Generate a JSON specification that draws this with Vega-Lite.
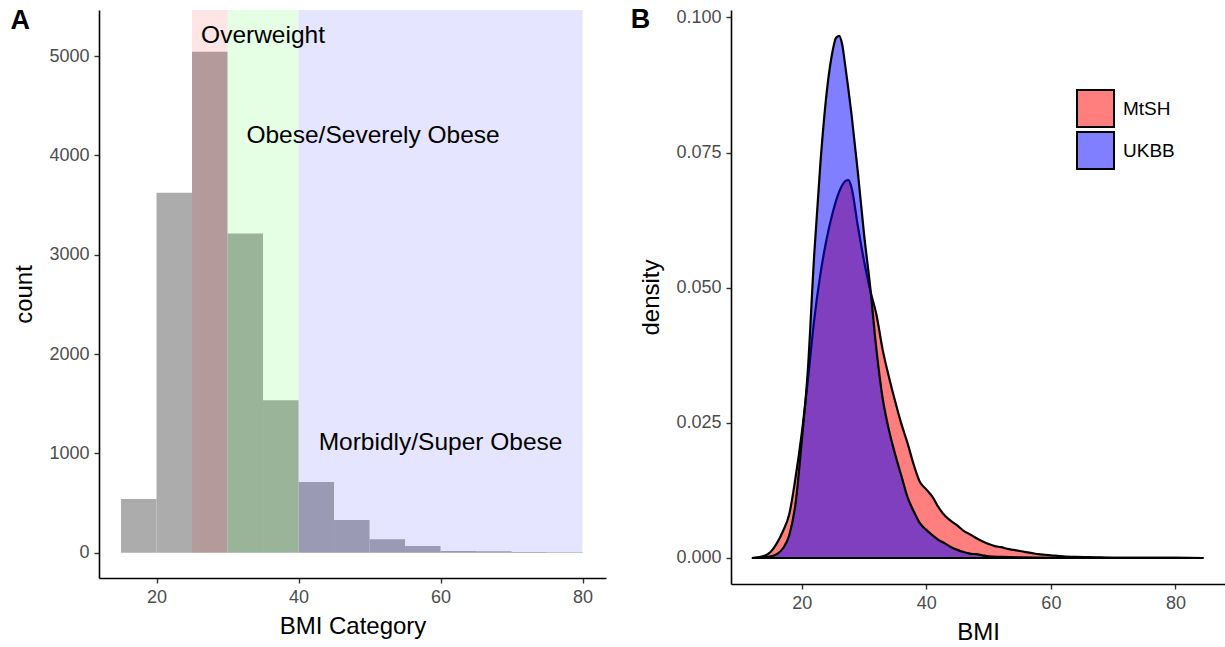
{
  "$schema": "https://vega.github.io/schema/vega-lite/v6.json",
  "padding": {"left": 10, "top": 6, "right": 0, "bottom": 0},
  "background": "white",
  "config": {
    "font": "Liberation Sans",
    "view": {"stroke": null},
    "axis": {"grid": false, "domainColor": "black", "domainWidth": 1.6, "tickColor": "#333333", "tickWidth": 1.4, "tickSize": 5, "labelColor": "#4d4d4d", "labelFontSize": 18, "labelPadding": 5, "titleFontSize": 24, "titleFontWeight": "normal", "titleColor": "black"},
    "axisX": {"titlePadding": 8, "labelFlush": false},
    "axisY": {"titlePadding": 12}
  },
  "spacing": 24,
  "resolve": {"scale": {"color": "independent", "fill": "independent"}, "legend": {"color": "independent", "fill": "independent"}},
  "datasets": {
    "hist": [
      {"bin_start": 15, "bin_end": 20, "count": 540},
      {"bin_start": 20, "bin_end": 25, "count": 3625},
      {"bin_start": 25, "bin_end": 30, "count": 5045},
      {"bin_start": 30, "bin_end": 35, "count": 3215},
      {"bin_start": 35, "bin_end": 40, "count": 1535},
      {"bin_start": 40, "bin_end": 45, "count": 712},
      {"bin_start": 45, "bin_end": 50, "count": 330},
      {"bin_start": 50, "bin_end": 55, "count": 135},
      {"bin_start": 55, "bin_end": 60, "count": 67},
      {"bin_start": 60, "bin_end": 65, "count": 17},
      {"bin_start": 65, "bin_end": 70, "count": 15},
      {"bin_start": 70, "bin_end": 75, "count": 6},
      {"bin_start": 75, "bin_end": 80, "count": 5}
    ],
    "zones": [
      {"zone": "Overweight", "xmin": 25, "xmax": 30},
      {"zone": "Obese/Severely Obese", "xmin": 30, "xmax": 40},
      {"zone": "Morbidly/Super Obese", "xmin": 40, "xmax": 80}
    ],
    "labelsA": [
      {"label": "Overweight", "x": 35, "y": 5200},
      {"label": "Obese/Severely Obese", "x": 50.5, "y": 4200},
      {"label": "Morbidly/Super Obese", "x": 60, "y": 1100}
    ],
    "panelA": [{"label": "A", "x": 0.8, "y": 5354}],
    "panelB": [{"label": "B", "BMI": -5.87, "density": 0.0995}],
    "density": [
      {"group": "MtSH", "BMI": 12, "density": 0},
      {"group": "MtSH", "BMI": 13, "density": 0.0001},
      {"group": "MtSH", "BMI": 14, "density": 0.0004},
      {"group": "MtSH", "BMI": 15, "density": 0.0011},
      {"group": "MtSH", "BMI": 16, "density": 0.0027},
      {"group": "MtSH", "BMI": 17, "density": 0.005},
      {"group": "MtSH", "BMI": 18, "density": 0.0081},
      {"group": "MtSH", "BMI": 19, "density": 0.0148},
      {"group": "MtSH", "BMI": 20, "density": 0.023},
      {"group": "MtSH", "BMI": 21, "density": 0.033},
      {"group": "MtSH", "BMI": 22, "density": 0.044},
      {"group": "MtSH", "BMI": 23, "density": 0.0525},
      {"group": "MtSH", "BMI": 24, "density": 0.059},
      {"group": "MtSH", "BMI": 25, "density": 0.064},
      {"group": "MtSH", "BMI": 26, "density": 0.0677},
      {"group": "MtSH", "BMI": 27, "density": 0.0697},
      {"group": "MtSH", "BMI": 27.5, "density": 0.0699},
      {"group": "MtSH", "BMI": 28, "density": 0.0685},
      {"group": "MtSH", "BMI": 29, "density": 0.0615},
      {"group": "MtSH", "BMI": 30, "density": 0.055},
      {"group": "MtSH", "BMI": 31, "density": 0.0495},
      {"group": "MtSH", "BMI": 32, "density": 0.045},
      {"group": "MtSH", "BMI": 33, "density": 0.0385},
      {"group": "MtSH", "BMI": 34, "density": 0.0335},
      {"group": "MtSH", "BMI": 35, "density": 0.029},
      {"group": "MtSH", "BMI": 36, "density": 0.0248},
      {"group": "MtSH", "BMI": 37, "density": 0.0212},
      {"group": "MtSH", "BMI": 38, "density": 0.0172},
      {"group": "MtSH", "BMI": 39, "density": 0.014},
      {"group": "MtSH", "BMI": 40, "density": 0.0127},
      {"group": "MtSH", "BMI": 41, "density": 0.0113},
      {"group": "MtSH", "BMI": 42, "density": 0.0093},
      {"group": "MtSH", "BMI": 43, "density": 0.0078},
      {"group": "MtSH", "BMI": 44, "density": 0.0068},
      {"group": "MtSH", "BMI": 45, "density": 0.006},
      {"group": "MtSH", "BMI": 46, "density": 0.005},
      {"group": "MtSH", "BMI": 47, "density": 0.0044},
      {"group": "MtSH", "BMI": 48, "density": 0.0037},
      {"group": "MtSH", "BMI": 49, "density": 0.0031},
      {"group": "MtSH", "BMI": 50, "density": 0.0026},
      {"group": "MtSH", "BMI": 51, "density": 0.0022},
      {"group": "MtSH", "BMI": 52, "density": 0.002},
      {"group": "MtSH", "BMI": 53, "density": 0.0017},
      {"group": "MtSH", "BMI": 54, "density": 0.0015},
      {"group": "MtSH", "BMI": 55, "density": 0.0013},
      {"group": "MtSH", "BMI": 56, "density": 0.0011},
      {"group": "MtSH", "BMI": 57, "density": 0.0009},
      {"group": "MtSH", "BMI": 58, "density": 0.0007},
      {"group": "MtSH", "BMI": 59, "density": 0.0006},
      {"group": "MtSH", "BMI": 60, "density": 0.0005},
      {"group": "MtSH", "BMI": 62, "density": 0.0003},
      {"group": "MtSH", "BMI": 64, "density": 0.0002},
      {"group": "MtSH", "BMI": 66, "density": 0.00015},
      {"group": "MtSH", "BMI": 68, "density": 0.0001},
      {"group": "MtSH", "BMI": 70, "density": 0.00005},
      {"group": "MtSH", "BMI": 75, "density": 0.00003},
      {"group": "MtSH", "BMI": 80, "density": 0.00001},
      {"group": "MtSH", "BMI": 84.5, "density": 0},
      {"group": "UKBB", "BMI": 12, "density": 0},
      {"group": "UKBB", "BMI": 13, "density": 0.00002},
      {"group": "UKBB", "BMI": 14, "density": 0.0001},
      {"group": "UKBB", "BMI": 15, "density": 0.0003},
      {"group": "UKBB", "BMI": 16, "density": 0.0007},
      {"group": "UKBB", "BMI": 17, "density": 0.0018},
      {"group": "UKBB", "BMI": 18, "density": 0.0042},
      {"group": "UKBB", "BMI": 19, "density": 0.01},
      {"group": "UKBB", "BMI": 20, "density": 0.0215},
      {"group": "UKBB", "BMI": 21, "density": 0.035},
      {"group": "UKBB", "BMI": 22, "density": 0.056},
      {"group": "UKBB", "BMI": 23, "density": 0.073},
      {"group": "UKBB", "BMI": 24, "density": 0.086},
      {"group": "UKBB", "BMI": 25, "density": 0.094},
      {"group": "UKBB", "BMI": 25.5, "density": 0.0962},
      {"group": "UKBB", "BMI": 26, "density": 0.0966},
      {"group": "UKBB", "BMI": 26.5, "density": 0.095},
      {"group": "UKBB", "BMI": 27, "density": 0.091},
      {"group": "UKBB", "BMI": 28, "density": 0.082},
      {"group": "UKBB", "BMI": 29, "density": 0.0715},
      {"group": "UKBB", "BMI": 30, "density": 0.06},
      {"group": "UKBB", "BMI": 31, "density": 0.0501},
      {"group": "UKBB", "BMI": 32, "density": 0.0385},
      {"group": "UKBB", "BMI": 33, "density": 0.0295},
      {"group": "UKBB", "BMI": 34, "density": 0.0237},
      {"group": "UKBB", "BMI": 35, "density": 0.0192},
      {"group": "UKBB", "BMI": 36, "density": 0.0152},
      {"group": "UKBB", "BMI": 37, "density": 0.0112},
      {"group": "UKBB", "BMI": 38, "density": 0.0086},
      {"group": "UKBB", "BMI": 39, "density": 0.0064},
      {"group": "UKBB", "BMI": 40, "density": 0.0052},
      {"group": "UKBB", "BMI": 41, "density": 0.0042},
      {"group": "UKBB", "BMI": 42, "density": 0.0033},
      {"group": "UKBB", "BMI": 43, "density": 0.0027},
      {"group": "UKBB", "BMI": 44, "density": 0.002},
      {"group": "UKBB", "BMI": 45, "density": 0.0015},
      {"group": "UKBB", "BMI": 46, "density": 0.0011},
      {"group": "UKBB", "BMI": 47, "density": 0.0008},
      {"group": "UKBB", "BMI": 48, "density": 0.0007},
      {"group": "UKBB", "BMI": 49, "density": 0.0005},
      {"group": "UKBB", "BMI": 50, "density": 0.0003},
      {"group": "UKBB", "BMI": 52, "density": 0.0002},
      {"group": "UKBB", "BMI": 55, "density": 0.0001},
      {"group": "UKBB", "BMI": 60, "density": 0.00005},
      {"group": "UKBB", "BMI": 65, "density": 0.00003},
      {"group": "UKBB", "BMI": 70, "density": 0.00002},
      {"group": "UKBB", "BMI": 75, "density": 0.00001},
      {"group": "UKBB", "BMI": 80, "density": 0.00001},
      {"group": "UKBB", "BMI": 84.5, "density": 0}
    ]
  },
  "hconcat": [
    {
      "width": 507,
      "height": 568,
      "layer": [
        {
          "data": {"name": "hist"},
          "mark": {"type": "rect", "fill": "#acacac"},
          "encoding": {
            "x": {"field": "bin_start", "type": "quantitative", "title": "BMI Category", "scale": {"domain": [11.9, 83.3], "nice": false, "zero": false}, "axis": {"values": [20, 40, 60, 80]}},
            "x2": {"field": "bin_end"},
            "y": {"field": "count", "type": "quantitative", "title": "count", "scale": {"domain": [-255, 5465], "nice": false, "zero": false}, "axis": {"values": [0, 1000, 2000, 3000, 4000, 5000], "format": "d"}},
            "y2": {"datum": 0}
          }
        },
        {
          "data": {"name": "zones"},
          "mark": {"type": "rect", "fillOpacity": 0.1},
          "encoding": {
            "x": {"field": "xmin", "type": "quantitative", "title": "BMI Category"},
            "x2": {"field": "xmax"},
            "y": {"datum": 0, "type": "quantitative", "title": "count"},
            "y2": {"datum": 5465},
            "fill": {"field": "zone", "type": "nominal", "scale": {"domain": ["Overweight", "Obese/Severely Obese", "Morbidly/Super Obese"], "range": ["#ff0000", "#00ff00", "#0000ff"]}, "legend": null}
          }
        },
        {
          "data": {"name": "labelsA"},
          "mark": {"type": "text", "fontSize": 24.5, "color": "black", "align": "center", "baseline": "middle"},
          "encoding": {
            "x": {"field": "x", "type": "quantitative", "title": "BMI Category"},
            "y": {"field": "y", "type": "quantitative", "title": "count"},
            "text": {"field": "label"}
          }
        },
        {
          "data": {"name": "panelA"},
          "mark": {"type": "text", "fontSize": 27, "fontWeight": "bold", "color": "black", "align": "center", "baseline": "middle"},
          "encoding": {
            "x": {"field": "x", "type": "quantitative", "title": "BMI Category"},
            "y": {"field": "y", "type": "quantitative", "title": "count"},
            "text": {"field": "label"}
          }
        }
      ]
    },
    {
      "width": 494,
      "height": 574,
      "layer": [
        {
          "data": {"name": "density"},
          "transform": [{"filter": "datum.group === 'MtSH'"}],
          "mark": {"type": "area", "interpolate": "monotone", "fillOpacity": 0.5, "stroke": "black", "strokeWidth": 2.2},
          "encoding": {
            "x": {"field": "BMI", "type": "quantitative", "title": "BMI", "scale": {"domain": [8.65, 87.95], "nice": false, "zero": false}, "axis": {"values": [20, 40, 60, 80]}},
            "y": {"field": "density", "type": "quantitative", "title": "density", "stack": null, "scale": {"domain": [-0.00481, 0.10137], "nice": false, "zero": false}, "axis": {"values": [0, 0.025, 0.05, 0.075, 0.1], "format": ".3f"}},
            "y2": {"datum": 0},
            "color": {"field": "group", "type": "nominal", "scale": {"domain": ["MtSH", "UKBB"], "range": ["#ff0000", "#0000ff"]},
              "legend": {"title": null, "orient": "none", "legendX": 345, "legendY": 79, "symbolType": "square", "symbolSize": 1369, "symbolStrokeWidth": 2, "symbolStrokeColor": "black", "labelFontSize": 19, "labelColor": "black", "labelOffset": 8, "rowPadding": -4,
                "encode": {"symbols": {"update": {"fillOpacity": {"value": 0.5}, "stroke": {"value": "black"}, "strokeWidth": {"value": 2}, "opacity": {"value": 1}}}}}}
          }
        },
        {
          "data": {"name": "density"},
          "transform": [{"filter": "datum.group === 'UKBB'"}],
          "mark": {"type": "area", "interpolate": "monotone", "fillOpacity": 0.5, "stroke": "black", "strokeWidth": 2.2},
          "encoding": {
            "x": {"field": "BMI", "type": "quantitative", "title": "BMI"},
            "y": {"field": "density", "type": "quantitative", "title": "density", "stack": null},
            "y2": {"datum": 0},
            "color": {"field": "group", "type": "nominal"}
          }
        },
        {
          "data": {"name": "panelB"},
          "mark": {"type": "text", "fontSize": 27, "fontWeight": "bold", "color": "black", "align": "center", "baseline": "middle"},
          "encoding": {
            "x": {"field": "BMI", "type": "quantitative", "title": "BMI"},
            "y": {"field": "density", "type": "quantitative", "title": "density"},
            "text": {"field": "label"}
          }
        }
      ]
    }
  ]
}
